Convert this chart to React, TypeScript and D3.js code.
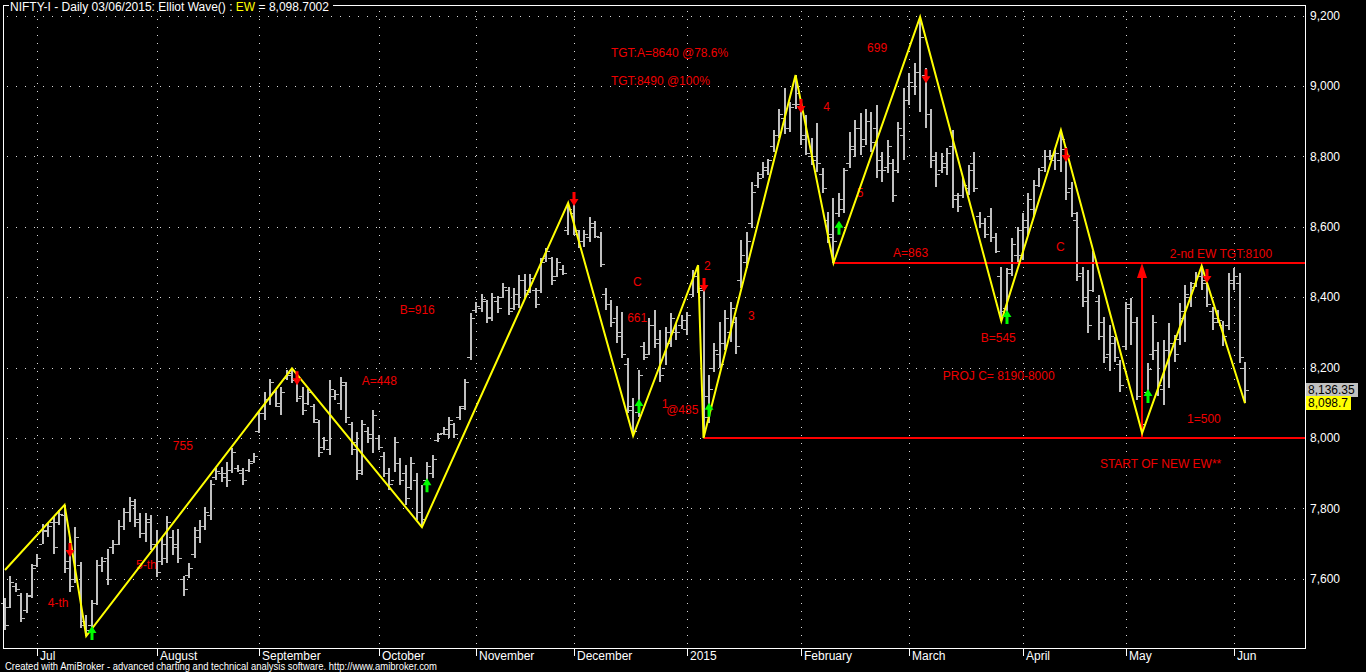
import React, { useEffect } from 'react';
import * as d3 from 'd3';

// ---- DATA (NIFTY-I daily, Jun 2014 – Jun 2015) ----
const opens = [
  7530, 7520, 7580, 7555, 7510, 7555, 7640, 7700, 7735, 7760, 7760, 7780, 7650, 7600, 7640, 7480, 7470, 7530, 7640, 7660,
  7690, 7700, 7750, 7790, 7810, 7770, 7730, 7760, 7700, 7650, 7660, 7720, 7700, 7600, 7610, 7670, 7720, 7750, 7780, 7890,
  7900, 7900, 7910, 7915, 7900, 7910, 7935, 8020, 8070, 8110, 8130, 8090, 8170, 8180, 8165, 8120, 8100, 8090, 8045, 7975,
  7970, 8120, 8100, 8150, 8040, 7990, 7910, 8020, 8010, 8000, 7950, 7900, 7880, 7930, 7900, 7860, 7880, 7790, 7880, 7900,
  7995, 8015, 8010, 8040, 8060, 8090, 8230, 8365, 8370, 8390, 8340, 8390, 8400, 8420, 8370, 8380, 8450, 8420, 8420, 8420,
  8510, 8510, 8460, 8480, 8590, 8640, 8580, 8560, 8570, 8600, 8570, 8410, 8380, 8340, 8300, 8210, 8080, 8075, 8260, 8240,
  8320, 8280, 8200, 8270, 8300, 8320, 8310, 8410, 8460, 8420, 8120, 8200, 8240, 8270, 8300, 8330, 8450, 8500, 8610, 8720,
  8750, 8760, 8830, 8860, 8910, 8880, 8950, 8950, 8860, 8800, 8790, 8750, 8620, 8580, 8640, 8650, 8780, 8820, 8880, 8850,
  8900, 8880, 8790, 8770, 8780, 8760, 8860, 8960, 9000, 9040, 9030, 8920, 8800, 8760, 8770, 8830, 8690, 8690, 8710, 8780,
  8630, 8610, 8630, 8570, 8460, 8370, 8480, 8520, 8520, 8600, 8650, 8720, 8770, 8800, 8790, 8790, 8820, 8710, 8620, 8470,
  8400, 8420, 8390, 8330, 8240, 8270, 8210, 8260, 8380, 8330, 8120, 8130, 8240, 8250, 8140, 8250, 8270, 8280, 8340, 8400,
  8440, 8460, 8450, 8360, 8340, 8320, 8320, 8440, 8440, 8200,
];
const highs = [
  7545, 7608, 7587, 7561, 7560, 7641, 7670, 7755, 7758, 7778, 7795, 7810, 7720, 7748, 7649, 7497, 7540, 7653, 7663, 7684,
  7710, 7767, 7800, 7833, 7826, 7786, 7786, 7781, 7739, 7715, 7779, 7739, 7742, 7608, 7644, 7748, 7767, 7803, 7881, 7914,
  7919, 7933, 7971, 7923, 7914, 7939, 7958, 8075, 8132, 8167, 8136, 8146, 8193, 8198, 8174, 8146, 8138, 8098, 8051, 8004,
  8165, 8136, 8174, 8160, 8046, 8018, 8051, 8032, 8080, 8009, 7961, 7914, 8004, 7942, 7923, 7947, 7900, 7866, 7933, 7952,
  8015, 8032, 8061, 8044, 8091, 8167, 8354, 8385, 8408, 8392, 8411, 8402, 8441, 8428, 8425, 8463, 8465, 8465, 8425, 8510,
  8539, 8515, 8510, 8492, 8668, 8665, 8591, 8591, 8627, 8617, 8586, 8425, 8392, 8375, 8359, 8226, 8113, 8193, 8274, 8340,
  8364, 8307, 8316, 8354, 8326, 8349, 8359, 8477, 8491, 8439, 8179, 8269, 8330, 8364, 8387, 8345, 8562, 8586, 8728, 8757,
  8785, 8794, 8875, 8936, 8993, 8955, 9031, 8960, 8917, 8851, 8894, 8766, 8643, 8681, 8695, 8768, 8870, 8903, 8922, 8936,
  8927, 8946, 8813, 8846, 8794, 8899, 8993, 9036, 9064, 9196, 9050, 8936, 8813, 8809, 8823, 8875, 8695, 8738, 8775, 8813,
  8643, 8624, 8652, 8581, 8487, 8482, 8567, 8600, 8638, 8695, 8733, 8766, 8818, 8818, 8818, 8875, 8828, 8728, 8643, 8487,
  8477, 8530, 8406, 8345, 8321, 8288, 8222, 8387, 8397, 8345, 8146, 8212, 8350, 8274, 8279, 8326, 8293, 8383, 8435, 8444,
  8473, 8489, 8473, 8373, 8364, 8331, 8468, 8482, 8468, 8217,
];
const lows = [
  7455, 7518, 7562, 7478, 7504, 7546, 7633, 7698, 7720, 7670, 7753, 7616, 7563, 7587, 7459, 7437, 7464, 7526, 7620, 7582,
  7670, 7696, 7739, 7762, 7748, 7715, 7705, 7682, 7606, 7639, 7644, 7668, 7644, 7552, 7601, 7658, 7701, 7739, 7767, 7881,
  7876, 7862, 7900, 7904, 7866, 7904, 7930, 8013, 8051, 8094, 8089, 8065, 8165, 8155, 8103, 8065, 8094, 8042, 7947, 7966,
  7952, 8108, 8080, 8042, 7952, 7881, 7895, 7985, 7956, 7966, 7890, 7852, 7904, 7866, 7810, 7852, 7767, 7747, 7866, 7885,
  7990, 8009, 7999, 7999, 8051, 8080, 8222, 8354, 8359, 8326, 8331, 8354, 8397, 8349, 8364, 8368, 8397, 8411, 8368, 8411,
  8501, 8435, 8458, 8463, 8577, 8577, 8539, 8544, 8558, 8567, 8485, 8364, 8316, 8270, 8226, 8070, 8006, 8061, 8221, 8236,
  8255, 8160, 8207, 8259, 8278, 8311, 8293, 8401, 8411, 8000, 8042, 8188, 8198, 8250, 8274, 8240, 8425, 8482, 8596, 8709,
  8738, 8747, 8813, 8851, 8865, 8870, 8936, 8832, 8804, 8775, 8757, 8695, 8553, 8497, 8629, 8638, 8766, 8799, 8804, 8832,
  8813, 8738, 8728, 8752, 8671, 8752, 8790, 8946, 8974, 8927, 8880, 8766, 8714, 8752, 8747, 8652, 8643, 8681, 8690, 8700,
  8596, 8567, 8558, 8525, 8332, 8340, 8460, 8500, 8506, 8577, 8629, 8714, 8757, 8790, 8762, 8757, 8676, 8629, 8445, 8373,
  8297, 8416, 8279, 8212, 8189, 8217, 8132, 8250, 8264, 8108, 8014, 8118, 8222, 8118, 8094, 8141, 8217, 8264, 8274, 8373,
  8430, 8421, 8373, 8307, 8326, 8260, 8307, 8421, 8212, 8099,
];
const closes = [
  7470, 7590, 7570, 7490, 7550, 7630, 7660, 7740, 7750, 7690, 7785, 7630, 7580, 7720, 7470, 7455, 7530, 7640, 7650, 7600,
  7700, 7750, 7790, 7820, 7760, 7730, 7770, 7700, 7620, 7700, 7760, 7690, 7660, 7570, 7630, 7740, 7750, 7790, 7870, 7905,
  7890, 7880, 7960, 7910, 7880, 7930, 7950, 8070, 8110, 8160, 8100, 8130, 8185, 8165, 8115, 8080, 8130, 8055, 7960, 7995,
  8140, 8125, 8160, 8060, 7970, 7900, 8040, 8000, 8065, 7975, 7900, 7870, 7990, 7880, 7830, 7930, 7790, 7770, 7920, 7940,
  8010, 8025, 8050, 8010, 8085, 8160, 8340, 8375, 8395, 8345, 8400, 8370, 8430, 8360, 8410, 8450, 8410, 8455, 8380, 8500,
  8530, 8450, 8500, 8470, 8650, 8590, 8560, 8580, 8610, 8575, 8495, 8380, 8330, 8290, 8240, 8090, 8020, 8180, 8230, 8320,
  8270, 8180, 8300, 8340, 8300, 8335, 8350, 8460, 8425, 8060, 8140, 8250, 8210, 8340, 8370, 8260, 8520, 8560, 8700, 8740,
  8770, 8790, 8860, 8920, 8880, 8940, 8980, 8850, 8810, 8800, 8780, 8710, 8570, 8560, 8680, 8760, 8830, 8880, 8830, 8900,
  8840, 8760, 8760, 8830, 8690, 8880, 8960, 9010, 9040, 9140, 8920, 8790, 8750, 8780, 8810, 8680, 8660, 8720, 8760, 8710,
  8610, 8580, 8570, 8530, 8360, 8470, 8550, 8590, 8620, 8680, 8720, 8760, 8800, 8805, 8810, 8850, 8700, 8640, 8460, 8390,
  8320, 8500, 8290, 8230, 8290, 8230, 8150, 8370, 8330, 8120, 8040, 8195, 8330, 8150, 8250, 8270, 8240, 8360, 8410, 8430,
  8460, 8440, 8380, 8330, 8335, 8290, 8450, 8460, 8230, 8136.35,
];

const monthLabels = ['Jul', 'August', 'September', 'October', 'November', 'December', '2015', 'February', 'March', 'April', 'May', 'Jun'];
const monthStartIdx = [6, 28, 47, 69, 87, 105, 126, 147, 167, 188, 207, 227];
const priceTicks = [7600, 7800, 8000, 8200, 8400, 8600, 8800, 9000, 9200];

// Elliott-wave zigzag
const zzIdx = [0, 11, 15, 53, 77, 104, 116, 128, 129, 146, 153, 169, 184, 195, 210, 221, 229];
const zzPrice = [7625, 7810, 7437, 8198, 7747, 8668, 8006, 8491, 8000, 9031, 8497, 9196, 8332, 8875, 8014, 8489, 8098.7];

// signals
const sellIdx = [12, 54, 105, 129, 147, 170, 196, 222];
const sellPrice = [7682, 8170, 8679, 8435, 8943, 9028, 8804, 8460];
const buyIdx = [16, 78, 117, 130, 154, 185, 211];
const buyPrice = [7446, 7866, 8091, 8080, 8597, 8344, 8119];

// red support lines (start index, level)
const supIdx = [129, 153];
const supPrice = [8000, 8497];
// projection arrow
const projIdx = 210;
const projFrom = 8000;
const projTo = 8497;

// annotations
const annText = ['4-th', '5-th', '755', 'A=448', 'B=916', 'C', '661', '1', '@485', '2', '3',
  'TGT:A=8640 @78.6%', 'TGT:8490 @100%', '4', '5', '699', 'A=863', 'C', 'B=545', 'PROJ C= 8190-8000',
  '2-nd EW TGT:8100', '1=500', 'START OF NEW EW**'];
const annIdx = [7.9, 24.2, 31.0, 65.9, 72.9, 116.0, 114.9, 121.3, 122.1, 129.1, 137.2,
  111.9, 111.9, 151.1, 157.3, 159.2, 164.0, 194.1, 180.2, 173.2,
  215.1, 218.3, 202.2];
const annPrice = [7531, 7639, 7977, 8162, 8364, 8443, 8341, 8097, 8080, 8489, 8347,
  9094, 9014, 8940, 8696, 9108, 8526, 8543, 8284, 8176,
  8523, 8054, 7926];

const lastClose = 8136.35;
const ewValue = 8098.7;

const FONT = '"Liberation Sans", Arial, sans-serif';

export default function App() {
  useEffect(() => {
    document.body.style.margin = '0';
    document.body.style.background = '#000';
  }, []);

  const W = 1366;
  const H = 672;
  const L = 3, R = 1305, T = 5, B = 648;
  const n = highs.length;
  const x = d3.scaleLinear().domain([0, n - 1]).range([5, 1245]);
  const y = d3.scaleLinear().domain([8000, 9200]).range([438, 15.6]);
  const px = (i: number) => Math.round(x(i));

  const zz = d3.line<number>().x((d, k) => x(zzIdx[k])).y((d) => y(d));

  const downArrow = 'M-1.5,-7 L1.5,-7 L1.5,0 L4.5,0 L0,7 L-4.5,0 L-1.5,0 Z';
  const upArrow = 'M-1.5,7 L1.5,7 L1.5,0 L4.5,0 L0,-7 L-4.5,0 L-1.5,0 Z';

  const projX = px(projIdx);
  const projTop = y(projTo);

  return (
    <svg width={W} height={H} style={{ position: 'absolute', left: 0, top: 0, background: '#000', display: 'block' }}
      fontFamily={FONT}>
      <rect x={0} y={0} width={W} height={H} fill="#000" />

      {/* grid */}
      <g stroke="#d8d8d8" strokeWidth={1} shapeRendering="crispEdges">
        {priceTicks.map((p) => (
          <line key={'h' + p} x1={L + 4} x2={R} y1={Math.round(y(p)) + 0.5} y2={Math.round(y(p)) + 0.5} strokeDasharray="1 8" />
        ))}
        {monthStartIdx.map((i) => (
          <line key={'v' + i} x1={px(i) + 0.5} x2={px(i) + 0.5} y1={T + 6} y2={B} strokeDasharray="1 7" />
        ))}
      </g>

      {/* OHLC bars */}
      <g fill="#c0c0c0" shapeRendering="crispEdges">
        {highs.map((h, i) => {
          const cx = px(i);
          const yh = Math.round(y(h));
          const yl = Math.round(y(lows[i]));
          return (
            <g key={i}>
              <rect x={cx - 1} y={yh} width={2} height={Math.max(1, yl - yh)} />
              <rect x={cx - 4} y={Math.round(y(opens[i]))} width={3} height={1} />
              <rect x={cx + 1} y={Math.round(y(closes[i]))} width={3} height={1} />
            </g>
          );
        })}
      </g>

      {/* annotations */}
      <g fill="#ee0000" fontSize={12}>
        {annText.map((t, k) => (
          <text key={k} x={x(annIdx[k])} y={y(annPrice[k])} dy="0.35em">{t}</text>
        ))}
      </g>

      {/* red support lines */}
      <g stroke="#ff0000" strokeWidth={2}>
        {supIdx.map((i, k) => (
          <line key={k} x1={x(i)} x2={R} y1={Math.round(y(supPrice[k]))} y2={Math.round(y(supPrice[k]))} />
        ))}
        <line x1={projX} x2={projX} y1={Math.round(y(projFrom))} y2={projTop + 12} />
      </g>
      <path d={`M${projX - 5},${projTop + 15} L${projX + 5},${projTop + 15} L${projX},${projTop} Z`} fill="#ff0000" />

      {/* zigzag */}
      <path d={zz(zzPrice) || ''} fill="none" stroke="#ffff00" strokeWidth={2} />

      {/* signals */}
      {sellIdx.map((i, k) => (
        <path key={'s' + k} d={downArrow} transform={`translate(${px(i)},${y(sellPrice[k])})`} fill="#ff0000" />
      ))}
      {buyIdx.map((i, k) => (
        <path key={'b' + k} d={upArrow} transform={`translate(${px(i)},${y(buyPrice[k])})`} fill="#00ff00" />
      ))}

      {/* frame */}
      <g stroke="#ffffff" strokeWidth={1} shapeRendering="crispEdges" fill="none">
        <line x1={L + 0.5} x2={L + 0.5} y1={T} y2={B + 1} />
        <line x1={R + 0.5} x2={R + 0.5} y1={T} y2={B + 1} />
        <line x1={L} x2={R + 1} y1={B + 0.5} y2={B + 0.5} />
        <line x1={L} x2={9} y1={T + 0.5} y2={T + 0.5} />
        <line x1={333} x2={R + 1} y1={T + 0.5} y2={T + 0.5} />
      </g>

      {/* title */}
      <text x={10} y={11} fontSize={12} fill="#ffffff">
        NIFTY-I - Daily 03/06/2015: Elliot Wave() : <tspan fill="#ffff00">EW</tspan> = 8,098.7002
      </text>

      {/* right axis */}
      <g fontSize={12} fill="#ffffff">
        {priceTicks.map((p) => (
          <text key={p} x={R + 5} y={y(p)} dy="0.35em">{d3.format(',')(p)}</text>
        ))}
      </g>
      <rect x={R + 1} y={Math.round(y(lastClose)) - 7} width={52} height={14} fill="#c0c0c0" />
      <text x={R + 3} y={y(lastClose)} dy="0.35em" fontSize={12} fill="#000">{d3.format(',.2f')(lastClose)}</text>
      <rect x={R + 1} y={Math.round(y(ewValue)) - 7} width={45} height={14} fill="#ffff00" />
      <text x={R + 3} y={y(ewValue)} dy="0.35em" fontSize={12} fill="#000">{d3.format(',.1f')(ewValue)}</text>

      {/* bottom axis */}
      <g fontSize={12} fill="#ffffff">
        {monthStartIdx.map((i, k) => (
          <g key={k}>
            <line x1={px(i) + 0.5} x2={px(i) + 0.5} y1={B} y2={B + 8} stroke="#ffffff" shapeRendering="crispEdges" />
            <text x={px(i) + 3} y={B + 12} fontSize={12}>{monthLabels[k]}</text>
          </g>
        ))}
      </g>
      <text x={5} y={670} fontSize={10} fill="#ffffff" textLength={432} lengthAdjust="spacingAndGlyphs">
        Created with AmiBroker - advanced charting and technical analysis software. http://www.amibroker.com
      </text>
    </svg>
  );
}
